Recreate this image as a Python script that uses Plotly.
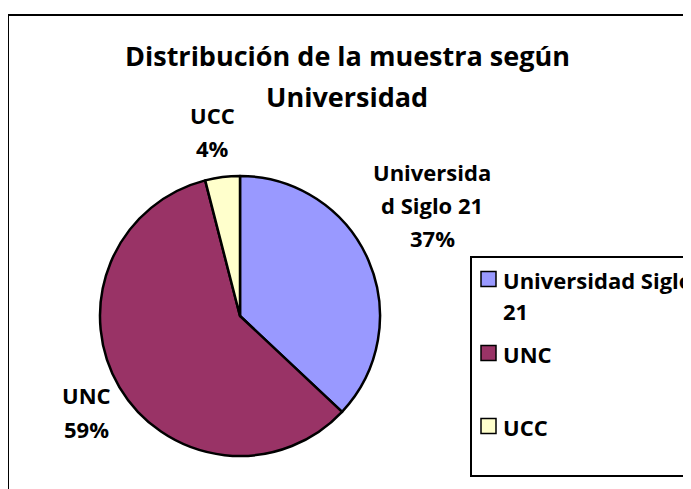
import plotly.graph_objects as go

W, H = 691, 489

# ---- data ----
categories = ["Universidad Siglo 21", "UNC", "UCC"]
values = [37, 59, 4]
colors = ["#9999FF", "#993366", "#FFFFCC"]
title_lines = ["Distribución de la muestra según", "Universidad"]
legend_lines = [["Universidad Siglo", "21"], ["UNC"], ["UCC"]]
label_lines = [["Universida", "d Siglo 21"], ["UNC"], ["UCC"]]

FONT = "Open Sans"
OFF = 8  # page body margin

def px(x):
    return (x - OFF) / W

def py(y):
    return 1 - (y - OFF) / H

fig = go.Figure()

# pie: centre (240,316), radius 140 (screen px)
fig.add_trace(go.Pie(
    labels=categories,
    values=values,
    sort=False,
    direction="clockwise",
    rotation=0,
    marker=dict(colors=colors, line=dict(color="black", width=2.5)),
    textinfo="none",
    hoverinfo="label+percent",
    showlegend=False,
    domain=dict(x=[px(100), px(380)], y=[py(456), py(176)]),
))

annotations = []
shapes = []

# outer chart border
shapes.append(dict(type="rect", xref="paper", yref="paper",
                   x0=px(8), y0=py(15), x1=px(720), y1=py(520),
                   line=dict(color="black", width=2), fillcolor="rgba(0,0,0,0)"))

# title
for t, y in zip(title_lines, [56, 96]):
    annotations.append(dict(text=t, x=px(347), y=py(y), xref="paper", yref="paper",
                            showarrow=False, xanchor="center", yanchor="middle",
                            font=dict(family=FONT, size=27, color="black", weight="bold")))

# data labels
total = sum(values)
pct = [f"{round(v / total * 100)}%" for v in values]
label_pos = [(432, [172, 205, 238]), (86, [395, 429]), (212, [115, 148])]
for i, (cx, ys) in enumerate(label_pos):
    lines = label_lines[i] + [pct[i]]
    for t, y in zip(lines, ys):
        annotations.append(dict(text=t, x=px(cx), y=py(y), xref="paper", yref="paper",
                                showarrow=False, xanchor="center", yanchor="middle",
                                font=dict(family=FONT, size=22, color="black", weight="bold")))

# legend box
shapes.append(dict(type="rect", xref="paper", yref="paper",
                   x0=px(471), y0=py(257), x1=px(720), y1=py(476),
                   line=dict(color="black", width=2), fillcolor="white"))
leg_y = [279, 353, 426]
for i, y in enumerate(leg_y):
    shapes.append(dict(type="rect", xref="paper", yref="paper",
                       x0=px(481), x1=px(496), y0=py(y - 7.5), y1=py(y + 7.5),
                       line=dict(color="black", width=1.5), fillcolor=colors[i]))
    for j, t in enumerate(legend_lines[i]):
        annotations.append(dict(text=t, x=px(501), y=py(y + 1 + 31 * j), xref="paper", yref="paper",
                                showarrow=False, xanchor="left", yanchor="middle",
                                font=dict(family=FONT, size=22, color="black", weight="bold")))

fig.update_layout(
    width=W, height=H,
    margin=dict(l=0, r=0, t=0, b=0),
    paper_bgcolor="white",
    plot_bgcolor="white",
    showlegend=False,
    annotations=annotations,
    shapes=shapes,
)

fig.write_html("out.html")
